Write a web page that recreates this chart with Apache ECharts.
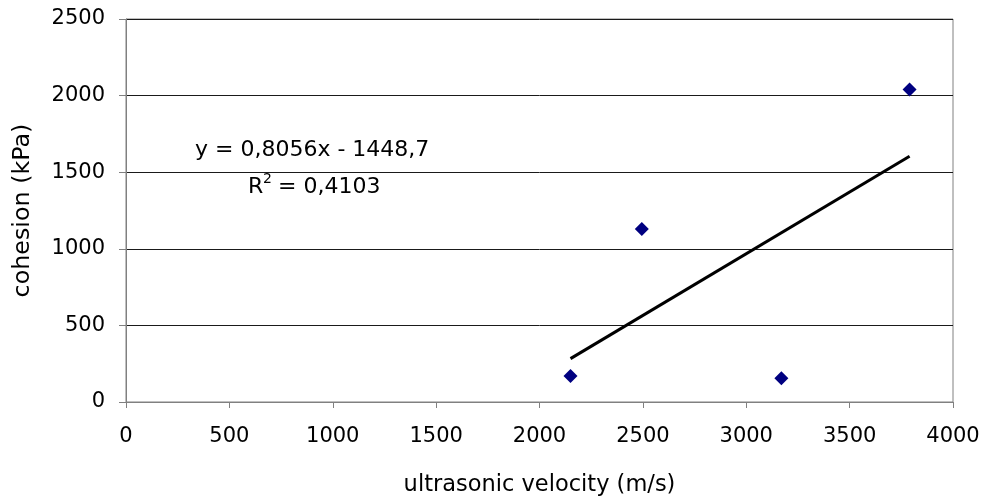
<!DOCTYPE html>
<html>
<head>
<meta charset="utf-8">
<script src="https://cdn.jsdelivr.net/npm/echarts@6/dist/echarts.min.js"></script>
<style>html,body{margin:0;padding:0;background:#fff}#c{width:987px;height:502px}</style>
</head>
<body>
<div id="c"></div>
<script>
var velocity = [2150, 2495, 3170, 3790];
var cohesion = [170, 1130, 155, 2040];
var xTicks = [0, 500, 1000, 1500, 2000, 2500, 3000, 3500, 4000];
var yTicks = [0, 500, 1000, 1500, 2000, 2500];
var trendSlope = 0.8056;
var trendIntercept = -1448.7;
var equationText = 'y = 0,8056x - 1448,7';
var r2Value = '0,4103';

var xMin = Math.min.apply(null, velocity), xMax = Math.max.apply(null, velocity);
var trend = [[xMin, trendSlope * xMin + trendIntercept], [xMax, trendSlope * xMax + trendIntercept]];
var pts = velocity.map(function (v, i) { return [v, cohesion[i]]; });
var F = 'DejaVu Sans';
function plain(v) { return String(v); }

var chart = echarts.init(document.getElementById('c'), null, {renderer: 'canvas'});
chart.setOption({
  animation: false,
  backgroundColor: '#fff',
  grid: {left: 126, right: 34, top: 19, bottom: 99, show: true, borderColor: '#808080', borderWidth: 1},
  xAxis: {
    type: 'value', min: xTicks[0], max: xTicks[xTicks.length - 1], interval: 500,
    name: 'ultrasonic velocity (m/s)', nameLocation: 'middle', nameGap: 72,
    nameTextStyle: {fontFamily: F, fontSize: 22.5, color: '#000'},
    axisLine: {show: true, lineStyle: {color: '#808080', width: 1}},
    axisTick: {show: true, inside: false, length: 6, lineStyle: {color: '#808080'}},
    axisLabel: {fontFamily: F, fontSize: 21, color: '#000', margin: 24, formatter: plain},
    splitLine: {show: false}
  },
  yAxis: {
    type: 'value', min: yTicks[0], max: yTicks[yTicks.length - 1], interval: 500,
    name: 'cohesion (kPa)', nameLocation: 'middle', nameGap: 91,
    nameTextStyle: {fontFamily: F, fontSize: 23.8, color: '#000'},
    axisLine: {show: true, lineStyle: {color: '#808080', width: 1}},
    axisTick: {show: true, inside: false, length: 7, lineStyle: {color: '#808080'}},
    axisLabel: {fontFamily: F, fontSize: 21, color: '#000', margin: 21, formatter: plain},
    splitLine: {show: true, lineStyle: {color: '#1a1a1a', width: 1}}
  },
  series: [
    {
      type: 'line', data: trend, symbol: 'none', z: 3,
      lineStyle: {color: '#000', width: 3}
    },
    {
      type: 'scatter', data: pts, symbol: 'diamond', symbolSize: [14, 14], z: 4,
      itemStyle: {color: '#000080', opacity: 1}
    }
  ],
  graphic: [
    {type: 'text', left: 195, top: 139, z: 10,
     style: {text: equationText, fontFamily: F, fontSize: 22, fill: '#000'}},
    {type: 'text', left: 248, top: 176, z: 10,
     style: {text: 'R', fontFamily: F, fontSize: 22, fill: '#000'}},
    {type: 'text', left: 263, top: 172, z: 10,
     style: {text: '2', fontFamily: F, fontSize: 14, fill: '#000'}},
    {type: 'text', left: 271, top: 176, z: 10,
     style: {text: ' = ' + r2Value, fontFamily: F, fontSize: 22, fill: '#000'}}
  ]
});
</script>
</body>
</html>
